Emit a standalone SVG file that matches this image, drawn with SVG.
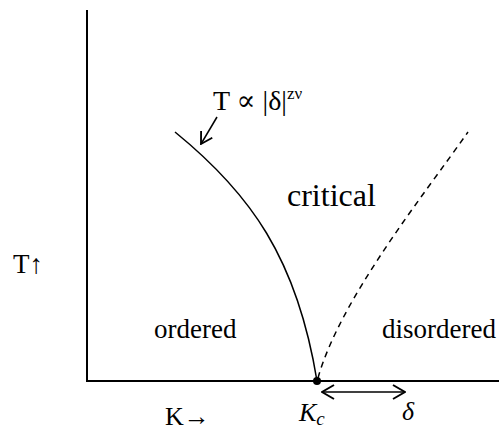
<svg xmlns="http://www.w3.org/2000/svg" width="499" height="432" viewBox="0 0 499 432">
<style>
text{font-family:"Liberation Serif","DejaVu Serif",serif;fill:#000}
.ax{stroke:#000;stroke-width:2;fill:none}
.ln{stroke:#000;stroke-width:1.5;fill:none}
</style>
<defs>
<marker id="ah" viewBox="0 0 14 16" refX="13" refY="8" markerWidth="14" markerHeight="16" orient="auto-start-reverse" markerUnits="userSpaceOnUse">
<path d="M1,1 L13,8 L1,15" fill="none" stroke="#000" stroke-width="2"/>
</marker>
<marker id="ah2" viewBox="0 0 14 16" refX="13" refY="8" markerWidth="13" markerHeight="15" orient="auto" markerUnits="userSpaceOnUse">
<path d="M1,1 L13,8 L1,15" fill="none" stroke="#000" stroke-width="2"/>
</marker>
</defs>
<g id="axes">
<path class="ax" d="M87,10 V381 H499"/>
</g>
<g id="connectors">
<path id="ordered-critical" class="ln" d="M175,132 C250,193 297,258 317,381"/>
<path id="critical-disordered" class="ln" stroke-dasharray="6,5" d="M318,378 C340,300 420,200 468,132"/>
<path id="label-arrow" class="ln" d="M217,117 L201,144" marker-end="url(#ah2)"/>
<path id="delta-arrow" class="ln" d="M322,392 H405" marker-start="url(#ah)" marker-end="url(#ah)"/>
</g>
<g id="kc-point"><circle cx="317" cy="381" r="4" fill="#000"/></g>
<g id="scaling-label"><text x="213" y="110" font-size="28">T ∝ |δ|<tspan font-size="17" dy="-11">zν</tspan></text></g>
<g id="critical"><text x="287" y="206" font-size="32">critical</text></g>
<g id="ordered"><text x="154" y="338" font-size="27">ordered</text></g>
<g id="disordered"><text x="382" y="338" font-size="27">disordered</text></g>
<g id="t-axis-label"><text x="13" y="273" font-size="27">T↑</text></g>
<g id="k-axis-label"><text x="165" y="425" font-size="26">K→</text></g>
<g id="kc-label"><text x="299" y="421" font-size="26" font-style="italic">K<tspan font-size="19" dy="4">c</tspan></text></g>
<g id="delta-label"><text x="402" y="420" font-size="26" font-style="italic">δ</text></g>
</svg>
